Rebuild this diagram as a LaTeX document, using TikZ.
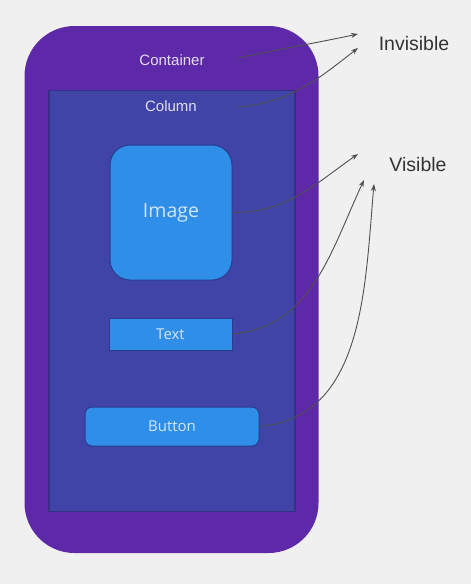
\documentclass[tikz,border=0pt]{standalone}
\usepackage{fontspec}
\setmainfont{Liberation Sans}
\newfontfamily\uifont{Open Sans}
\usepackage{xcolor}
\usetikzlibrary{arrows.meta}

\definecolor{bggray}{HTML}{F0F0F0}
\definecolor{contpurple}{HTML}{5E29A8}
\definecolor{colindigo}{HTML}{3F44A6}
\definecolor{coledge}{HTML}{362F86}
\definecolor{itemblue}{HTML}{2F8EE8}
\definecolor{itemedge}{HTML}{2A3C8E}
\definecolor{itemtext}{HTML}{D3E5FA}
\definecolor{conttext}{HTML}{E4DCF2}
\definecolor{arrowgray}{HTML}{505050}

\begin{document}
\begin{tikzpicture}[x=1pt, y=-1pt,
  widget/.style={draw=itemedge, line width=1pt, fill=itemblue, text=itemtext,
    inner sep=0pt, font=\uifont\fontsize{15}{18}\selectfont},
  pointer/.style={draw=arrowgray, line width=0.9pt, -{Stealth[length=7pt,width=5pt]}},
  sidenote/.style={font=\fontsize{19.5}{23}\selectfont, text=black!80}]
  % Draw the background
  \fill[bggray] (0,0) rectangle (471,584);
  \useasboundingbox (0,0) rectangle (471,584);

  % Container and column
  \node[fill=contpurple, rounded corners=50pt, minimum width=294pt, minimum height=527pt, inner sep=0pt] (container) at (171.5,289.5) {};
  \node[fill=colindigo, draw=coledge, line width=1.2pt, minimum width=246pt, minimum height=421pt, inner sep=0pt] (column) at (172,301) {};
  \node[text=conttext, font=\fontsize{15}{18}\selectfont] (containerlbl) at (172,60) {Container};
  \node[text=conttext, font=\fontsize{15}{18}\selectfont] (columnlbl) at (171,106) {Column};

  % Children of the column
  \node[widget, rounded corners=20pt, minimum width=122pt, minimum height=135pt, font=\uifont\fontsize{19.5}{23}\selectfont] (image) at (171,212.5) {Image};
  \node[widget, minimum width=123pt, minimum height=32pt] (text) at (170.5,334) {Text};
  \node[widget, rounded corners=7pt, minimum width=174pt, minimum height=39pt] (button) at (172,426.5) {Button};

  % Side notes
  \node[sidenote] (invisible) at (414,44) {Invisible};
  \node[sidenote] (visible) at (418,165) {Visible};

  % Arrow ends
  \coordinate (containerfrom) at (238,58);
  \coordinate (columnfrom) at (238,107);
  \coordinate (inv1) at (358,34);
  \coordinate (inv2) at (358,48);
  \coordinate (vis1) at (358,154);
  \coordinate (vis2) at (364,180);
  \coordinate (vis3) at (374,184);

  % Arrows
  \draw[pointer] (containerfrom) to[out=12, in=192] (inv1);
  \draw[pointer] (columnfrom) to[out=5, in=218] (inv2);
  \draw[pointer] (image.east) to[out=0, in=215] (vis1);
  \draw[pointer] (text.east) to[out=5, in=245] (vis2);
  \draw[pointer] (button.east) to[out=5, in=265] (vis3);
\end{tikzpicture}
\end{document}
